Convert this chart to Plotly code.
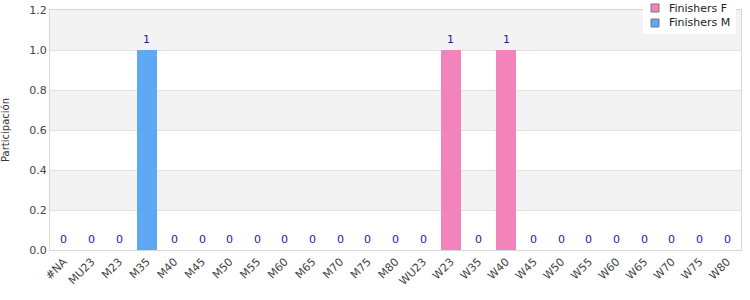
import plotly.graph_objects as go

categories = ["#NA", "MU23", "M23", "M35", "M40", "M45", "M50", "M55", "M60", "M65",
              "M70", "M75", "M80", "WU23", "W23", "W35", "W40", "W45", "W50", "W55",
              "W60", "W65", "W70", "W75", "W80"]
finishers_f = [0, 0, 0, 0, 0, 0, 0, 0, 0, 0, 0, 0, 0, 0, 1, 0, 1, 0, 0, 0, 0, 0, 0, 0, 0]
finishers_m = [0, 0, 0, 1, 0, 0, 0, 0, 0, 0, 0, 0, 0, 0, 0, 0, 0, 0, 0, 0, 0, 0, 0, 0, 0]
series_names = ["Finishers F", "Finishers M"]
totals = [f + m for f, m in zip(finishers_f, finishers_m)]

PINK = "#f383bb"
BLUE = "#5fa8f3"
COLORS = [PINK, BLUE]
FONT = "DejaVu Sans"

W, H = 750, 300
ML, MR, MT, MB = 50, 9, 0, 50
PW, PH = W - ML - MR, H - MT - MB


def px(x):
    return (x - ML) / PW


def py(y):
    return (PH - y) / PH


fig = go.Figure()
for vals, name, col in zip([finishers_f, finishers_m], series_names, COLORS):
    fig.add_trace(go.Bar(x=categories, y=vals, name=name,
                         marker=dict(color=col, line=dict(width=0)), showlegend=False))

shapes = []
for y0 in [0.2, 0.6, 1.0]:
    shapes.append(dict(type="rect", xref="paper", yref="y", x0=0, x1=1, y0=y0, y1=y0 + 0.2,
                       fillcolor="#f3f3f3", line=dict(width=0), layer="below"))

annotations = []
# value labels above each category
for cat, tot in zip(categories, totals):
    annotations.append(dict(text=str(tot), x=cat, y=tot, xref="x", yref="y",
                            xanchor="center", yanchor="bottom", yshift=2, showarrow=False,
                            font=dict(family=FONT, size=11, color="#1c1c99")))

# custom legend box
shapes.append(dict(type="rect", xref="paper", yref="paper", x0=px(643), x1=px(736),
                   y0=py(34), y1=py(-2), fillcolor="white", line=dict(width=0), layer="above"))
for i, (name, col) in enumerate(zip(series_names, COLORS)):
    cy = 8 + 15 * i
    shapes.append(dict(type="rect", xref="paper", yref="paper", x0=px(651), x1=px(659),
                       y0=py(cy + 4), y1=py(cy - 4), fillcolor=col,
                       line=dict(color="#777777", width=1), layer="above"))
    annotations.append(dict(text=name, xref="paper", yref="paper", x=px(667), y=py(cy),
                            xanchor="left", yanchor="middle", showarrow=False,
                            font=dict(family=FONT, size=11, color="#222222")))

annotations.append(dict(text="Participación", textangle=-90, xref="paper", yref="paper",
                        x=px(5), y=py(130), xanchor="center", yanchor="middle",
                        showarrow=False, font=dict(family=FONT, size=10, color="#333333")))

fig.update_layout(
    width=W, height=H,
    margin=dict(l=ML, r=MR, t=MT, b=MB, autoexpand=False),
    barmode="stack", bargap=0.28,
    plot_bgcolor="white", paper_bgcolor="white",
    font=dict(family=FONT, size=11, color="#444444"),
    shapes=shapes,
    annotations=annotations,
    showlegend=False,
    xaxis=dict(tickangle=-45, showgrid=False, showline=True, linecolor="#d8d8d8",
               mirror=True, ticks="", automargin=False, range=[-0.5, len(categories) - 0.5],
               tickfont=dict(size=11, color="#444444")),
    yaxis=dict(range=[0, 1.2], dtick=0.2, tickformat=".1f", showgrid=True,
               domain=[0, 240 / PH], automargin=False,
               gridcolor="#e2e2e2", showline=True, linecolor="#d8d8d8", mirror=True,
               zeroline=False, ticks="", tickfont=dict(size=11, color="#444444")),
)

fig.write_html("out.html")
